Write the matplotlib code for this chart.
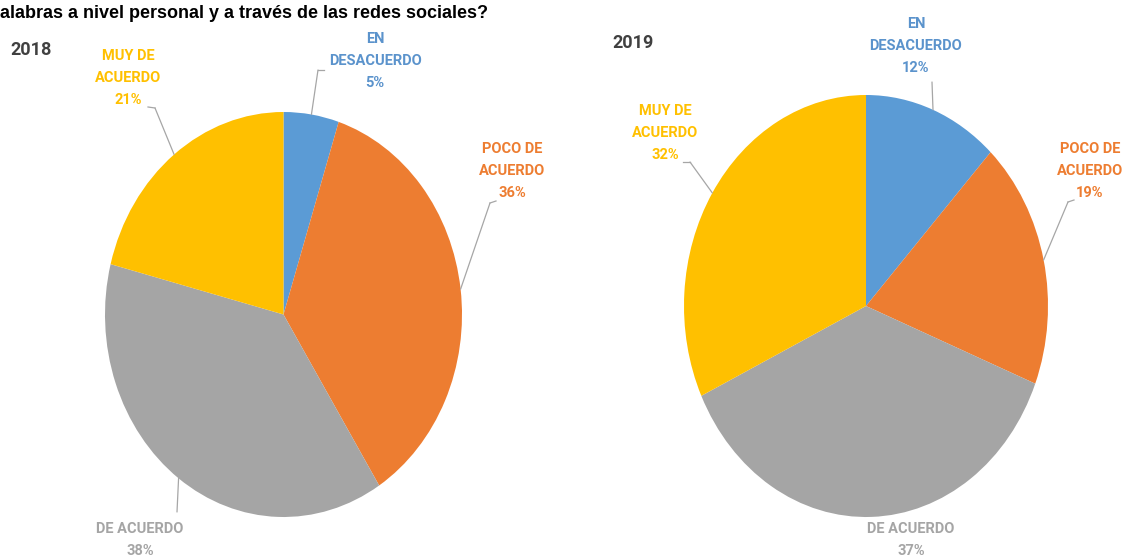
import matplotlib
matplotlib.use("Agg")
import matplotlib.pyplot as plt
import numpy as np
from matplotlib.lines import Line2D

# data
categories = ["EN\nDESACUERDO", "POCO DE\nACUERDO", "DE ACUERDO", "MUY DE\nACUERDO"]
years = ["2018", "2019"]
values_2018 = [5, 36, 38, 21]
values_2019 = [12, 19, 37, 32]
colors = ["#5B9BD5", "#ED7D31", "#A5A5A5", "#FFC000"]
text_colors = ["#5B93CC", "#ED7D31", "#A5A5A5", "#FFC000"]

W, H = 1130, 558


def ff(x, y):
    # image pixel (top-down) -> figure fraction
    return (x / W, 1 - y / H)


fig = plt.figure(figsize=(W / 100, H / 100), dpi=100)
fig.patch.set_facecolor("white")

fig.text(*ff(0, 13), "alabras a nivel personal y a través de las redes sociales?",
         fontsize=13, fontweight="bold", family="Liberation Sans", ha="left", va="center")

# pie boxes in image pixels: left, top, right, bottom
boxes = [(105, 112, 462, 517), (684, 95, 1048, 517)]
year_pos = [(31, 50), (633, 43)]
# label centres and leader line points (bend, end) in image pixels
label_pos = [
    [(375, 61), (512, 171), (140, 540), (128, 78)],
    [(916, 46), (1090, 171), (911, 540), (665, 133)],
]
leaders = [
    [[(318, 70), (324, 70)], [(490, 203), (496, 201)], [(177, 512)], [(155, 108), (148, 107)]],
    [[(932, 82)], [(1068, 202), (1074, 200)], None, [(690, 162), (683, 162)]],
]

for i, vals in enumerate([values_2018, values_2019]):
    l, t, r, b = boxes[i]
    ax = fig.add_axes([l / W, (H - b) / H, (r - l) / W, (b - t) / H])
    wedges, _ = ax.pie(vals, colors=colors, startangle=90, counterclock=False,
                       wedgeprops=dict(linewidth=0))
    ax.set_aspect("auto")
    ax.set_xlim(-1, 1)
    ax.set_ylim(-1, 1)
    ax.axis("off")

    fig.text(*ff(*year_pos[i]), years[i], fontsize=13, fontweight="bold",
             family="Roboto", color="#404040", ha="center", va="center")

    for j, w in enumerate(wedges):
        lx, ly = label_pos[i][j]
        fig.text(*ff(lx, ly), f"{categories[j]}\n{vals[j]}%", fontsize=10.5,
                 fontweight="bold", family="Roboto", color=text_colors[j],
                 ha="center", va="center", linespacing=1.7)
        pts = leaders[i][j]
        if pts is None:
            continue
        mid = np.deg2rad((w.theta1 + w.theta2) / 2)
        ax.annotate("", xy=(np.cos(mid), np.sin(mid)), xycoords="data",
                    xytext=ff(*pts[0]), textcoords="figure fraction",
                    arrowprops=dict(arrowstyle="-", color="#A6A6A6", lw=0.9,
                                    shrinkA=0, shrinkB=0))
        if len(pts) > 1:
            xs = [ff(*p)[0] for p in pts]
            ys = [ff(*p)[1] for p in pts]
            fig.add_artist(Line2D(xs, ys, transform=fig.transFigure,
                                  color="#A6A6A6", lw=0.9))

fig.savefig("out.png", dpi=100, facecolor="white")
